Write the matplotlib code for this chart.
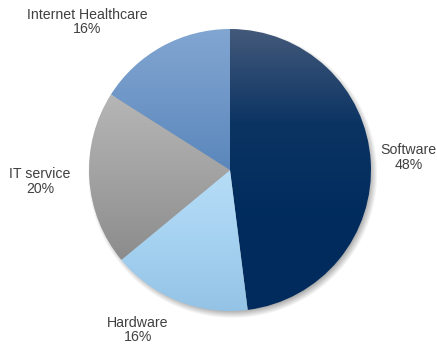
import numpy as np
import matplotlib
matplotlib.use("Agg")
import matplotlib.pyplot as plt
from matplotlib.colors import LinearSegmentedColormap

plt.rcParams['font.family'] = ['Liberation Sans', 'DejaVu Sans']

categories = ["Software", "Hardware", "IT service", "Internet Healthcare"]
shares = [48, 16, 20, 16]

# top -> bottom gradient stops for each wedge
GRADIENTS = {
    "Software": ["#43597a", "#0c3463", "#002c5d", "#002b5c"],
    "Hardware": ["#b6ddf7", "#a6d2f1", "#94c3e6"],
    "IT service": ["#b6b6b6", "#a2a2a2", "#8c8c8c"],
    "Internet Healthcare": ["#82a6d2", "#6f97c7", "#5b87bc"],
}

# label anchor in polar form (radius, angle in degrees), pie radius = 1
LABEL_POS = {
    "Software": (1.27, 4),
    "Hardware": (1.31, -120),
    "IT service": (1.35, 183.5),
    "Internet Healthcare": (1.46, 134),
}

W, H = 437, 347
CX, CY, R = 230, 177, 141   # pixel centre (y from bottom) and radius

fig = plt.figure(figsize=(W / 100, H / 100), dpi=100)
ax = fig.add_axes([0, 0, 1, 1])
ax.set_xlim(-CX / R, (W - CX) / R)
ax.set_ylim(-CY / R, (H - CY) / R)
ax.axis('off')

# soft drop shadow under the pie
gx = np.linspace(-CX / R, (W - CX) / R, W)
gy = np.linspace(-CY / R, (H - CY) / R, H)
XX, YY = np.meshgrid(gx, gy)
d = np.hypot(XX - 0.02, YY + 0.025)
alpha = np.clip((1.03 - d) / 0.06, 0, 1) * 0.35
shadow = np.zeros((H, W, 4))
shadow[..., 3] = alpha
ax.imshow(shadow, extent=(gx[0], gx[-1], gy[0], gy[-1]), origin='lower',
          zorder=0, interpolation='bilinear')

wedges, _ = ax.pie(shares, startangle=90, counterclock=False, radius=1,
                   colors=['none'] * len(shares),
                   wedgeprops=dict(linewidth=0, zorder=1))

for wedge, name in zip(wedges, categories):
    bb = wedge.get_path().get_extents()
    cmap = LinearSegmentedColormap.from_list(name, GRADIENTS[name][::-1])
    grad = np.linspace(0, 1, 256).reshape(-1, 1)
    im = ax.imshow(grad, cmap=cmap, aspect='auto', origin='lower',
                   extent=(bb.x0, bb.x1, bb.y0, bb.y1), zorder=2,
                   interpolation='bilinear')
    im.set_clip_path(wedge)

ax.set_xlim(-CX / R, (W - CX) / R)
ax.set_ylim(-CY / R, (H - CY) / R)

for name, val in zip(categories, shares):
    r, th = LABEL_POS[name]
    t = np.deg2rad(th)
    ax.text(r * np.cos(t), r * np.sin(t), f"{name}\n{val}%",
            ha='center', va='center', fontsize=10.2, color='#404040',
            linespacing=1.05, zorder=5)

fig.savefig("out.png", dpi=100, facecolor='white')
